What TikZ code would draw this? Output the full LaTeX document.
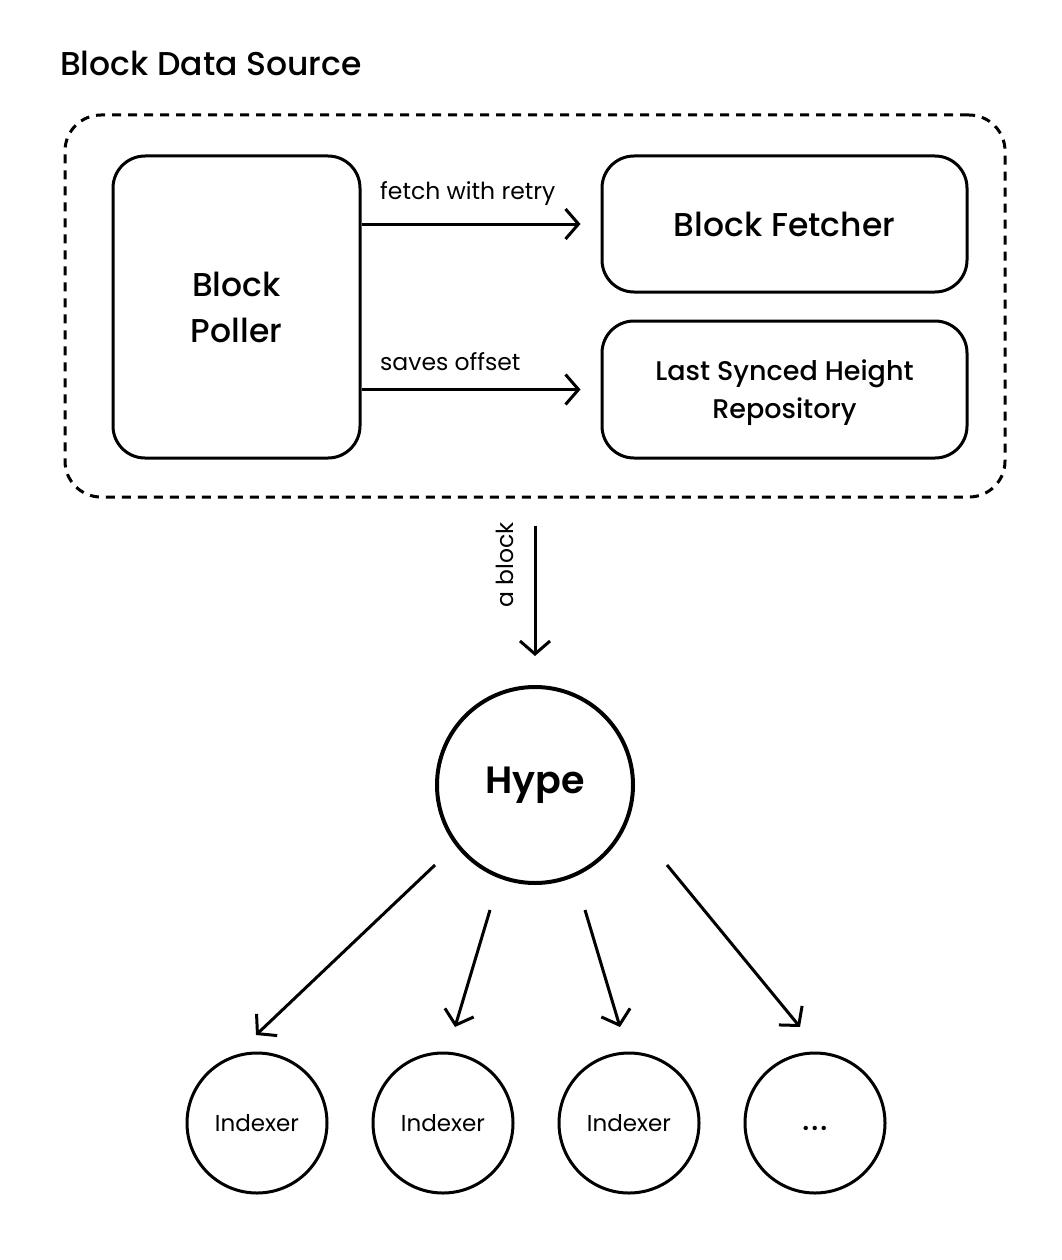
\documentclass[tikz,border=0pt]{standalone}
\usepackage{fontspec}
\setmainfont{Poppins}[BoldFont={Poppins Medium}]
\newfontfamily\heavyfont{Poppins SemiBold}
\usetikzlibrary{arrows.meta}
\begin{document}
\begin{tikzpicture}[x=1pt,y=-1pt,
  box/.style={draw, line width=3pt, rounded corners=32pt, align=center},
  circ/.style={draw, circle, line width=3pt, inner sep=0pt},
  arr/.style={line width=3pt, -{Straight Barb[length=13pt,width=30pt,line width=3pt]}},
  lbl/.style={font=\fontsize{23.5}{28}\selectfont, inner sep=0pt}
]
\useasboundingbox (0,0) rectangle (1062,1260);
\node[anchor=base west, inner sep=0pt, font=\fontsize{33}{38}\selectfont\bfseries] (title) at (60,76) {Block Data Source};
\node[draw, dashed, dash pattern=on 9pt off 7pt, line width=3pt, rounded corners=36pt, minimum width=940pt, minimum height=382pt] (src) at (535,306) {};
\node[box, minimum width=247pt, minimum height=302pt, font=\fontsize{33}{46}\selectfont\bfseries] (poller) at (236.5,307) {Block\\Poller};
\node[box, minimum width=365pt, minimum height=136pt, font=\fontsize{33}{38}\selectfont\bfseries] (fetcher) at (784.5,224) {Block Fetcher};
\node[box, minimum width=365pt, minimum height=137pt, text depth=0pt, font=\fontsize{27}{38}\selectfont\bfseries] (repo) at (784.5,389.5) {Last Synced Height\\Repository};
\draw[arr, shorten >=20pt] (poller.east |- fetcher) -- (fetcher.west);
\draw[arr, shorten >=20pt] (poller.east |- repo) -- (repo.west);
\node[lbl, anchor=base west] (l1) at (380,200) {fetch with retry};
\node[lbl, anchor=base west] (l2) at (380,370) {saves offset};
\node[circ, line width=4pt, minimum size=196pt, font=\fontsize{38}{44}\heavyfont] (hype) at (535,785) {Hype};
\draw[arr, shorten <=27pt, shorten >=29pt] (src.south -| hype.north) -- (hype.north);
\node[lbl, rotate=90] (ablock) at (505,565) {a block};
\node[circ, minimum size=140pt, font=\fontsize{23}{26}\selectfont] (i1) at (257,1123) {Indexer};
\node[circ, minimum size=140pt, font=\fontsize{23}{26}\selectfont] (i2) at (443,1123) {Indexer};
\node[circ, minimum size=140pt, font=\fontsize{23}{26}\selectfont] (i3) at (629,1123) {Indexer};
\node[circ, minimum size=140pt] (i4) at (815,1123) {};
\node[inner sep=0pt, font=\fontsize{30}{34}\selectfont\bfseries] (dots) at (815,1132) {·\kern1.5pt·\kern1.5pt·};
\coordinate (s1) at (435,865); \coordinate (e1) at (256,1035);
\coordinate (s2) at (490,910); \coordinate (e2) at (455,1027);
\coordinate (s3) at (585,910); \coordinate (e3) at (620,1027);
\coordinate (s4) at (667,865); \coordinate (e4) at (800,1027);
\draw[arr] (s1) -- (e1);
\draw[arr] (s2) -- (e2);
\draw[arr] (s3) -- (e3);
\draw[arr] (s4) -- (e4);
\end{tikzpicture}
\end{document}
